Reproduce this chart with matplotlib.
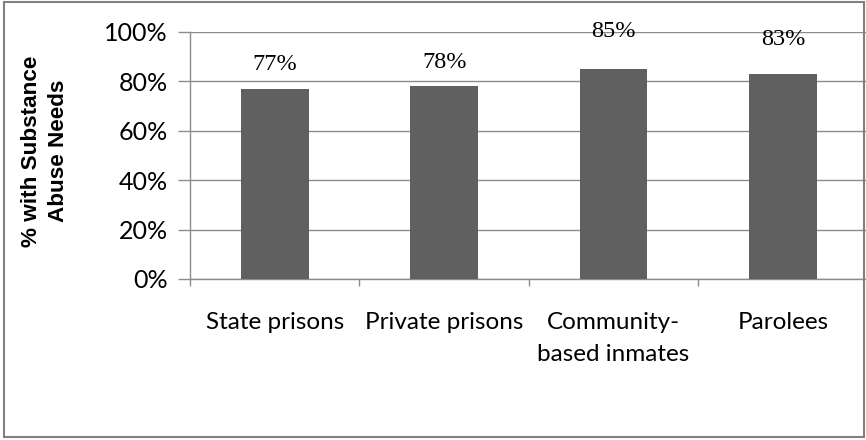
import numpy as np
import matplotlib
matplotlib.use("Agg")
import matplotlib.pyplot as plt
from matplotlib.patches import Rectangle

# ----- data -----
categories = ["State prisons", "Private prisons", "Community-\nbased inmates", "Parolees"]
pct_values = [77, 78, 85, 83]
y_ticks = [0, 20, 40, 60, 80, 100]
y_title = "% with Substance\nAbuse Needs"

# label offsets above bar tops (pixels) -- labels were placed by hand in the original
label_offsets = [24, 24, 38, 34]

BAR = "#606060"
GRID = "#8c8c8c"

fig = plt.figure(figsize=(8.66, 4.40), dpi=100)
ax = fig.add_axes([190 / 866, 1 - 279 / 440, 1 - 190 / 866 + 0.002, (279 - 32) / 440])

x = np.arange(len(categories))
ax.bar(x, pct_values, width=0.4, color=BAR, zorder=3)

ax.set_xlim(-0.5, len(categories) - 0.5)
ax.set_ylim(0, 100)
ax.set_yticks(y_ticks)
ax.set_yticklabels([f"{v}%" for v in y_ticks], fontsize=18, family="Lato")
ax.yaxis.grid(True, color=GRID, lw=1.0, zorder=0)
ax.tick_params(axis="y", length=9, width=1, color=GRID, pad=7)

# category boundary ticks, labels centred on the bars
ax.set_xticks(np.arange(len(categories) + 1) - 0.5)
ax.set_xticklabels([])
ax.set_xticks(x, minor=True)
ax.set_xticklabels(categories, minor=True, fontsize=17.5, family="Lato", linespacing=1.6)
ax.tick_params(axis="x", which="major", length=5, width=1, color=GRID, direction="out")
ax.tick_params(axis="x", which="minor", length=0, pad=24)

for s in ("top", "right"):
    ax.spines[s].set_visible(False)
for s in ("left", "bottom"):
    ax.spines[s].set_color(GRID)
    ax.spines[s].set_linewidth(1.0)

for xi, v, off in zip(x, pct_values, label_offsets):
    ax.annotate(f"{v}%", (xi, v), xytext=(0, off * 0.72), textcoords="offset points",
                ha="center", va="center", fontsize=17.5, family="Liberation Serif")

fig.text(45 / 866, 1 - 151 / 440, y_title, rotation=90, ha="center", va="center",
         fontsize=16.2, fontweight="bold", family="Liberation Sans", linespacing=1.42)

fig.patches.append(Rectangle((4 / 866, 3 / 440), 860 / 866, 435 / 440, transform=fig.transFigure,
                             fill=False, edgecolor="#808080", lw=1.5, zorder=10))

fig.savefig("out.png", dpi=100)
